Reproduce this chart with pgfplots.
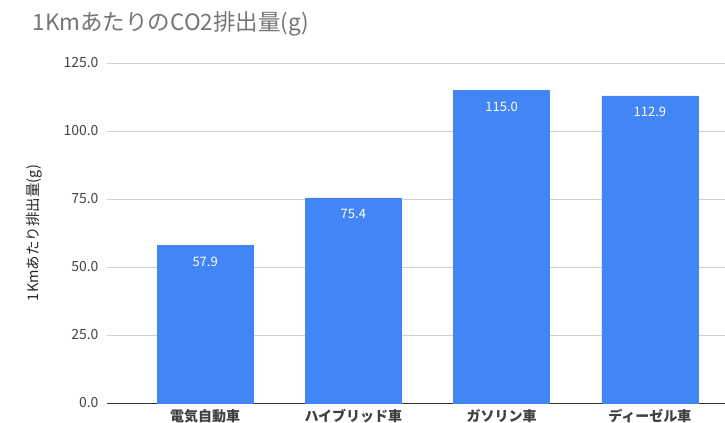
\documentclass[border=0pt]{standalone}
\usepackage{fontspec}
\setmainfont{Noto Sans CJK JP}
\usepackage{pgfplots}
\pgfplotsset{compat=1.18}
\definecolor{barblue}{HTML}{4285F4}
\definecolor{titlegray}{HTML}{757575}
\definecolor{ticktext}{HTML}{444444}
\definecolor{gridgray}{HTML}{D0D0D0}
\begin{document}
\begin{tikzpicture}
\useasboundingbox (-107bp,-20bp) rectangle (618bp,403bp);
\begin{axis}[
  scale only axis,
  width=618bp, height=340bp,
  at={(0,0)}, anchor=south west,
  xmin=-0.662, xmax=3.507,
  ymin=0, ymax=125,
  ytick={0,25,50,75,100,125},
  xtick={0,1,2,3},
  xticklabels={電気自動車,ハイブリッド車,ガソリン車,ディーゼル車},
  /pgf/number format/assume math mode=true,
  yticklabel style={/pgf/number format/fixed,/pgf/number format/precision=1,/pgf/number format/fixed zerofill, font=\fontsize{14bp}{16bp}\selectfont, text=ticktext, xshift=-5bp},
  xticklabel style={font=\fontsize{14bp}{16bp}\selectfont\bfseries, text=black!75, yshift=-3bp},
  major tick length=0pt,
  axis x line*=bottom,
  axis y line*=left,
  y axis line style={draw=none},
  x axis line style={draw=black!80, line width=0.8bp},
  ymajorgrids,
  grid style={gridgray, line width=0.6bp},
  ylabel={1Kmあたり排出量(g)},
  ylabel style={at={(axis description cs:0,0.5)}, anchor=center, yshift=73bp, font=\fontsize{14.5bp}{16bp}\selectfont, text=black!85},
  title={1KmあたりのCO2排出量(g)},
  title style={at={(axis description cs:0,1)}, anchor=west, xshift=-78bp, yshift=33bp, font=\fontsize{22.5bp}{24bp}\selectfont, text=titlegray},
]
\addplot[ybar, bar width=96bp, fill=barblue, draw=barblue,
  nodes near coords,
  nodes near coords style={anchor=north, yshift=-8bp, text=white, font=\fontsize{13bp}{15bp}\selectfont, /pgf/number format/fixed, /pgf/number format/precision=1, /pgf/number format/fixed zerofill, /pgf/number format/assume math mode=true},
] coordinates {(0,57.9) (1,75.4) (2,115.0) (3,112.9)};
\end{axis}
\end{tikzpicture}
\end{document}
